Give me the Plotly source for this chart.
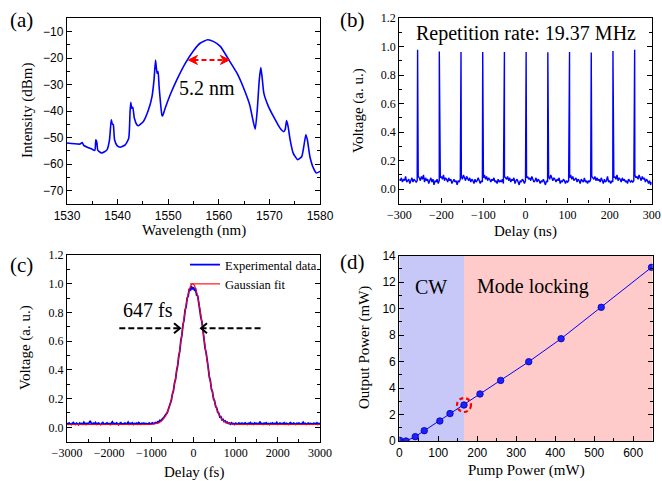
import plotly.graph_objects as go
import numpy as np

# ---------------- (a) optical spectrum ----------------
wl = [1530, 1532.6, 1533.0, 1533.3, 1534.9, 1535.5, 1535.7, 1535.9, 1536.1, 1536.9, 1537.9, 1538.4,
      1538.75, 1538.95, 1539.15, 1539.4, 1539.9, 1540.5, 1541.5, 1542.2, 1542.45, 1542.6, 1542.8,
      1543.0, 1543.3, 1543.8, 1544.1, 1545.1, 1546.1, 1546.8, 1547.2, 1547.5, 1547.8, 1548.0, 1548.2,
      1548.75, 1548.9, 1549.4, 1550.4, 1551.7, 1553.4, 1555.0, 1556.3, 1557.8, 1559.0, 1560.3,
      1561.9, 1563.6, 1564.9, 1566.1, 1566.8, 1567.2, 1567.6, 1568.0, 1568.3, 1568.55, 1568.9,
      1569.8, 1570.8, 1572.1, 1572.8, 1573.1, 1573.4, 1573.7, 1574.1, 1574.7, 1575.6, 1576.4,
      1576.8, 1577.2, 1577.5, 1578.0, 1578.7, 1579.3, 1580]
dbm = [-52.0, -52.4, -51.8, -52.9, -54.3, -54.8, -50.8, -51.7, -54.8, -55.8, -54.6, -50.8,
       -43.3, -44.8, -45.1, -50.8, -53.0, -53.6, -52.7, -50.2, -40.8, -36.7, -38.9,
       -38.5, -42.6, -45.1, -45.5, -43.9, -39.5, -34.5, -28.2, -20.7, -25.7, -25.1, -30.7,
       -41.4, -41.8, -38.9, -33.8, -28.2, -21.9, -17.2, -14.4, -13.1, -13.8, -15.6,
       -20.4, -25.7, -31.3, -37.6, -43.9, -46.8, -39.5, -28.2, -23.6, -27.0, -33.2,
       -38.2, -42.0, -46.4, -47.7, -47.0, -43.5, -45.8, -50.8, -55.8, -58.3, -57.1,
       -53.3, -48.9, -50.8, -57.1, -61.5, -63.3, -62.7]
fwhm_a = [1554.0, 1562.1]   # ends of the 5.2 nm arrow
fwhm_a_level = -20.7

# ---------------- (b) pulse train ----------------
pulse_t = [-256.5, -204.9, -153.3, -101.7, -50.1, 1.5, 53.1, 104.7, 156.3, 207.9, 259.5]
pulse_v = [0.977, 0.965, 0.962, 0.962, 0.962, 0.962, 0.960, 0.962, 0.958, 0.968, 0.977]
# baseline samples (x 0.01), every 2.5 ns from -300 ns
base_b = [7, 6, 8, 5, 7, 6, 9, 5, 6, 7, 4, 6, 8, 5, 7, 6, 5, 6,
          9, 8, 6, 9, 7, 10, 5, 8, 6, 7, 4, 6, 8, 5, 7, 3, 6, 5, 7, 4, 6,
          8, 9, 7, 10, 6, 8, 7, 5, 8, 6, 7, 4, 6, 7, 5, 6, 3, 6, 5, 7,
          9, 7, 10, 8, 6, 9, 7, 6, 8, 5, 7, 6, 4, 7, 5, 6, 8, 5, 4, 6, 5,
          8, 10, 7, 9, 6, 8, 7, 5, 7, 6, 8, 5, 6, 4, 7, 5, 6, 5, 7, 4,
          9, 8, 7, 9, 6, 8, 5, 7, 6, 8, 4, 6, 7, 5, 3, 6, 5, 7, 6, 4, 6,
          8, 9, 7, 8, 6, 9, 7, 5, 6, 8, 5, 7, 6, 4, 6, 5, 7, 5, 3, 6, 5,
          9, 7, 10, 8, 6, 8, 7, 5, 7, 6, 8, 4, 6, 5, 7, 6, 4, 6, 5, 6,
          8, 10, 7, 9, 6, 7, 8, 5, 7, 6, 4, 7, 6, 5, 8, 5, 6, 4, 6, 5, 7,
          9, 8, 7, 9, 6, 8, 6, 7, 5, 8, 6, 4, 7, 5, 6, 9, 5, 6, 4, 6, 5,
          8, 9, 7, 10, 6, 8, 7, 5, 8, 6, 7, 5, 6, 4, 7, 6, 5, 6, 5, 6,
          10, 8, 9, 7, 10, 8, 6, 9, 7, 8, 5, 7, 6, 4, 6, 3, 5]

# ---------------- (c) autocorrelation ----------------
# measured trace (x 0.001), every 25 fs from -3000 fs
ac_data = [28, 22, 31, 25, 19, 27, 33, 24, 21, 29,
           26, 18, 30, 24, 27, 22, 35, 26, 20, 28,
           24, 31, 45, 27, 22, 29, 25, 33, 21, 26,
           30, 24, 19, 28, 34, 25, 22, 27, 31, 23,
           26, 20, 29, 38, 24, 27, 22, 30, 25, 19,
           28, 33, 24, 21, 27, 30, 23, 26, 36, 22,
           28, 25, 31, 20, 27, 24, 29, 22, 33, 26,
           21, 28, 25, 30, 23, 27,
           27, 22, 30, 24, 26, 31, 25, 29, 33,
           30, 38, 35, 48, 45, 58, 62, 70, 85, 92,
           100, 125, 138, 170, 188, 232, 255, 310, 335, 395,
           430, 495, 530, 605, 640, 715, 745, 815, 840, 900,
           915, 965, 950, 985, 960, 975, 955, 960, 920, 915,
           860, 835, 765, 735, 660, 630, 550, 520, 445, 415,
           350, 325, 265, 248, 198, 185, 145, 135, 105, 98,
           72, 73, 52, 55, 40, 44, 33, 36, 27, 30,
           22, 31, 24, 27, 20, 29, 25, 23, 30, 26,
           25, 29, 22, 27, 31, 24, 20, 28, 26, 33,
           23, 27, 21, 30, 25, 28, 22, 26, 39, 24,
           27, 21, 29, 25, 32, 23, 26, 20, 28, 24,
           30, 22, 27, 25, 34, 21, 26, 29, 23, 27,
           25, 31, 22, 28, 24, 20, 27, 33, 26, 23,
           29, 25, 21, 28, 24, 30, 26, 22, 27, 35,
           24, 28, 21, 26, 30, 23, 27, 25, 22, 29,
           26, 24, 31, 22, 27, 20]
fit_t = [-3000, -1500, -1100, -1000, -900, -800, -750, -700, -650, -600, -550, -500, -450, -400,
         -350, -300, -250, -200, -150, -100, -50, -20, 0, 50, 100, 150, 200, 250, 300, 350, 400,
         450, 500, 550, 600, 650, 700, 750, 800, 900, 1000, 1100, 1500, 3000]
fit_v = [0.020, 0.020, 0.020, 0.021, 0.025, 0.036, 0.047, 0.063, 0.087, 0.121, 0.167, 0.227,
         0.301, 0.389, 0.489, 0.597, 0.705, 0.807, 0.894, 0.959, 0.994, 1.000, 0.997, 0.968,
         0.909, 0.826, 0.727, 0.619, 0.510, 0.408, 0.317, 0.240, 0.178, 0.129, 0.093, 0.067,
         0.049, 0.038, 0.030, 0.023, 0.021, 0.020, 0.020, 0.020]
fwhm_c_left = [-1760, -320]
fwhm_c_right = [1590, 178]
fwhm_c_level = 0.69

# ---------------- (d) output power ----------------
pump = [1, 17, 41, 64, 104, 130, 166, 207, 260, 332, 415, 518, 647]
outp = [0.05, 0.0, 0.33, 0.78, 1.51, 2.07, 2.72, 3.55, 4.58, 5.99, 7.73, 10.10, 13.12]
ml_threshold = 166
ml_output = 2.72

SERIF = "Liberation Serif"
SANS = "Liberation Sans"

# build (b) trace
tb = list(np.arange(len(base_b)) * 2.5 - 300)
vb = [v / 100 for v in base_b]
pts = sorted(list(zip(tb, vb)) + list(zip(pulse_t, pulse_v)))
tb_all = [p[0] for p in pts]
vb_all = [p[1] for p in pts]

tc = list(np.linspace(-3000, 3000, len(ac_data)))
vc = [v / 1000 for v in ac_data]

fig = go.Figure()
fig.add_trace(go.Scatter(x=wl, y=dbm, mode="lines", line=dict(color="#0000ff", width=1.6, shape="spline", smoothing=0.5),
                         xaxis="x", yaxis="y", showlegend=False))
fig.add_trace(go.Scatter(x=tb_all, y=vb_all, mode="lines", line=dict(color="#0000ff", width=1.4),
                         xaxis="x2", yaxis="y2", showlegend=False))
fig.add_trace(go.Scatter(x=tc, y=vc, mode="lines", line=dict(color="#0000ff", width=1.8),
                         xaxis="x3", yaxis="y3", name="Experimental data", showlegend=True))
fig.add_trace(go.Scatter(x=fit_t, y=fit_v, mode="lines", line=dict(color="#ff0000", width=1.1, shape="spline"),
                         xaxis="x3", yaxis="y3", name="Gaussian fit", showlegend=True))
fig.add_trace(go.Scatter(x=pump, y=outp, mode="lines+markers", line=dict(color="#0000ff", width=1),
                         marker=dict(color="#2020ff", size=6.5, line=dict(color="#0000aa", width=0.8)),
                         xaxis="x4", yaxis="y4", showlegend=False))

W, H = 662, 481
def dom_x(a, b):
    return [a / W, b / W]
def dom_y(top, bottom):
    return [1 - bottom / H, 1 - top / H]

def xax(domain, rng, dtick, mdtick, anchor, tfont):
    return dict(domain=domain, range=rng, anchor=anchor, showline=True, linecolor="black", linewidth=1.3,
                mirror=True, ticks="inside", ticklen=5, tickwidth=1, tickcolor="black", dtick=dtick,
                tick0=0, minor=dict(ticks="inside", ticklen=3, dtick=mdtick, tickcolor="black"),
                showgrid=False, zeroline=False, tickfont=dict(family=tfont, size=12, color="black"),
                automargin=False)

def yax(domain, rng, dtick, mdtick, anchor, tfont, fmt=None):
    d = dict(domain=domain, range=rng, anchor=anchor, showline=True, linecolor="black", linewidth=1.3,
             mirror="ticks", ticks="inside", ticklen=5, tickwidth=1, tickcolor="black", dtick=dtick,
             tick0=0, minor=dict(ticks="inside", ticklen=3, dtick=mdtick, tickcolor="black"),
             showgrid=False, zeroline=False, tickfont=dict(family=tfont, size=12, color="black"),
             automargin=False)
    if fmt:
        d["tickformat"] = fmt
    return d

fig.update_layout(
    width=W, height=H, margin=dict(l=0, r=0, t=0, b=0),
    paper_bgcolor="white", plot_bgcolor="white",
    xaxis=xax(dom_x(67, 320), [1530, 1580], 10, 5, "y", SANS),
    yaxis=yax(dom_y(18.3, 204), [-75, -5], 10, 5, "x", SANS),
    xaxis2=xax(dom_x(399.3, 651.7), [-300, 300], 100, 50, "y2", SERIF),
    yaxis2=yax(dom_y(18, 203.5), [-0.1, 1.2], 0.2, 0.1, "x2", SERIF, fmt=".1f"),
    xaxis3=xax(dom_x(67, 320), [-3000, 3000], 1000, 500, "y3", SERIF),
    yaxis3=yax(dom_y(255, 441.7), [-0.1, 1.2], 0.2, 0.1, "x3", SERIF, fmt=".1f"),
    xaxis4=xax(dom_x(399.3, 652.7), [0, 650], 100, 50, "y4", SANS),
    yaxis4=yax(dom_y(255.7, 441), [0, 14], 2, 1, "x4", SANS),
    legend=dict(x=185 / W, y=1 - 250 / H, xanchor="left", yanchor="top", bgcolor="rgba(0,0,0,0)",
                font=dict(family=SERIF, size=12.5, color="black"), itemwidth=30, tracegroupgap=0),
)

shapes = []
# (d) background regions
shapes.append(dict(type="rect", xref="x4", yref="y4 domain", x0=0, x1=ml_threshold, y0=0, y1=1,
                   fillcolor="#c8c8f8", line=dict(width=0), layer="below"))
shapes.append(dict(type="rect", xref="x4", yref="y4 domain", x0=ml_threshold, x1=650, y0=0, y1=1,
                   fillcolor="#ffcaca", line=dict(width=0), layer="below"))
# (d) red dashed circle around threshold point
shapes.append(dict(type="circle", xref="x4", yref="y4", xsizemode="pixel", ysizemode="pixel",
                   xanchor=ml_threshold, yanchor=ml_output, x0=-7, x1=7, y0=-7, y1=7,
                   line=dict(color="#ff0000", width=2.2, dash="4px,3px"), layer="above"))
# (a) dashed FWHM arrow line
shapes.append(dict(type="line", xref="x", yref="y", x0=fwhm_a[0] + 1.0, x1=fwhm_a[1] - 1.0,
                   y0=fwhm_a_level, y1=fwhm_a_level, line=dict(color="#ff0000", width=2, dash="5px,3px")))
# (a) stealth arrow heads (red)
shapes.append(dict(type="path", xref="x", yref="y", xsizemode="pixel", ysizemode="pixel",
                   xanchor=fwhm_a[0], yanchor=fwhm_a_level, path="M 0,0 L 9,4.5 L 6,0 L 9,-4.5 Z",
                   line=dict(color="#ff0000", width=1), fillcolor="#ff0000"))
shapes.append(dict(type="path", xref="x", yref="y", xsizemode="pixel", ysizemode="pixel",
                   xanchor=fwhm_a[1], yanchor=fwhm_a_level, path="M 0,0 L -9,4.5 L -6,0 L -9,-4.5 Z",
                   line=dict(color="#ff0000", width=1), fillcolor="#ff0000"))
# (c) dashed arrows
for seg in (fwhm_c_left, fwhm_c_right):
    shapes.append(dict(type="line", xref="x3", yref="y3", x0=seg[0], x1=seg[1],
                       y0=fwhm_c_level, y1=fwhm_c_level, line=dict(color="black", width=2, dash="6px,3px")))
# (c) open chevron arrow heads
shapes.append(dict(type="path", xref="x3", yref="y3", xsizemode="pixel", ysizemode="pixel",
                   xanchor=fwhm_c_left[1], yanchor=fwhm_c_level, path="M -6,5 L 0,0 L -6,-5",
                   line=dict(color="black", width=2)))
shapes.append(dict(type="path", xref="x3", yref="y3", xsizemode="pixel", ysizemode="pixel",
                   xanchor=fwhm_c_right[1], yanchor=fwhm_c_level, path="M 6,5 L 0,0 L 6,-5",
                   line=dict(color="black", width=2)))
fig.update_layout(shapes=shapes)

ann = []
txt = dict(family=SERIF, size=20, color="black")
ann.append(dict(x=1557.6, y=-31.3, xref="x", yref="y", text="5.2 nm", showarrow=False, font=txt))
ann.append(dict(x=0, y=1.093, xref="x2", yref="y2", text="Repetition rate: 19.37 MHz", showarrow=False, font=txt))
ann.append(dict(x=-1072, y=0.814, xref="x3", yref="y3", text="647 fs", showarrow=False, font=txt))
ann.append(dict(x=81, y=11.65, xref="x4", yref="y4", text="CW", showarrow=False, font=txt))
ann.append(dict(x=344, y=11.65, xref="x4", yref="y4", text="Mode locking", showarrow=False, font=txt))
lab = dict(family=SERIF, size=21, color="black")
for t, px, py in (("(a)", 21, 20), ("(b)", 353, 20), ("(c)", 21, 265), ("(d)", 353, 262)):
    ann.append(dict(x=px / W, y=1 - py / H, xref="paper", yref="paper", text=t, showarrow=False,
                    font=lab, xanchor="center", yanchor="middle"))
# axis titles
tf = dict(family=SERIF, size=15, color="black")
for t, px, py in (("Wavelength (nm)", 193.5, 230), ("Delay (ns)", 525.5, 231),
                  ("Delay (fs)", 193.5, 472), ("Pump Power (mW)", 526, 470)):
    ann.append(dict(x=px / W, y=1 - py / H, xref="paper", yref="paper", text=t, showarrow=False,
                    font=tf, xanchor="center", yanchor="middle"))
for t, px, py in (("Intensity (dBm)", 27, 111), ("Voltage (a. u.)", 358, 111),
                  ("Voltage (a. u.)", 25, 348), ("Output Power (mW)", 364, 348)):
    ann.append(dict(x=px / W, y=1 - py / H, xref="paper", yref="paper", text=t, showarrow=False,
                    font=tf, xanchor="center", yanchor="middle", textangle=-90))
fig.update_layout(annotations=ann)

fig.write_html("out.html", config={"displayModeBar": False},
               post_script="document.body.style.margin='0px';document.body.style.overflow='hidden';")
